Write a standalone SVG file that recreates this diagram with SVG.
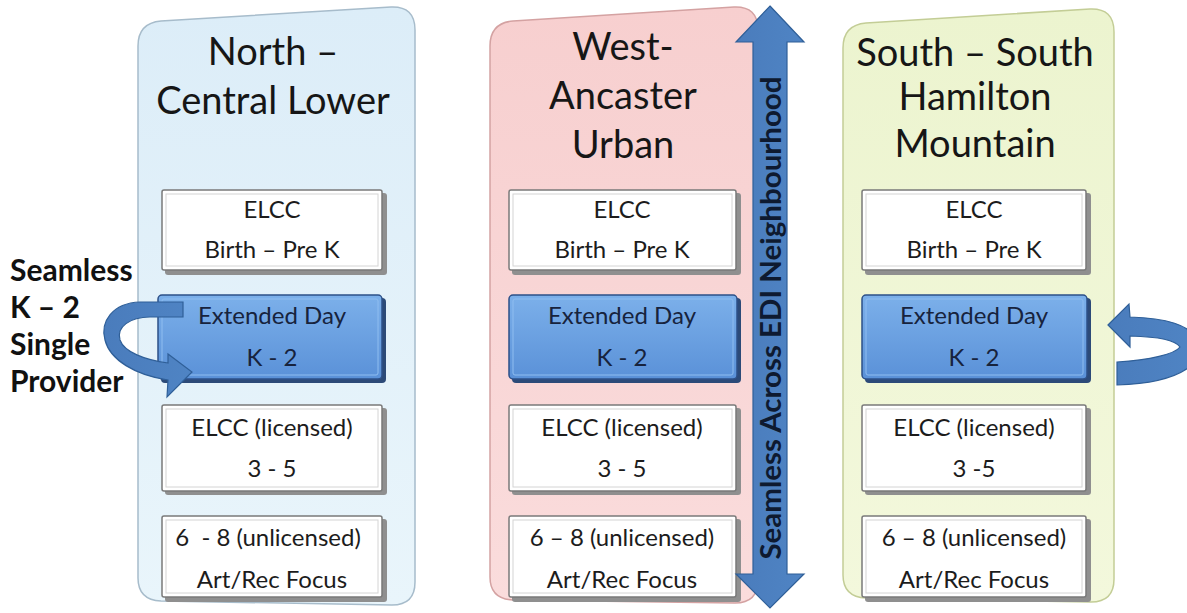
<svg xmlns="http://www.w3.org/2000/svg" width="1187" height="613" viewBox="0 0 1187 613">
<defs>
<linearGradient id="gBlueP" x1="0" y1="0" x2="0" y2="1"><stop offset="0" stop-color="#dcedf8"/><stop offset="1" stop-color="#e9f5fb"/></linearGradient>
<linearGradient id="gPink" x1="0" y1="0" x2="0" y2="1"><stop offset="0" stop-color="#f7cfcf"/><stop offset="1" stop-color="#fadcdc"/></linearGradient>
<linearGradient id="gGreen" x1="0" y1="0" x2="0" y2="1"><stop offset="0" stop-color="#ecf4cf"/><stop offset="1" stop-color="#f3f8dc"/></linearGradient>
<linearGradient id="gBox" x1="0" y1="0" x2="0" y2="1"><stop offset="0" stop-color="#7cb0ea"/><stop offset="1" stop-color="#5a91d8"/></linearGradient>
<linearGradient id="gArrow" x1="0" y1="0" x2="1" y2="0"><stop offset="0" stop-color="#4a7cbc"/><stop offset="1" stop-color="#4f84c4"/></linearGradient>
<style>
.panel{stroke-width:1.5}
.title{font-family:Lato,"Liberation Sans",sans-serif;font-size:38px;fill:#161616;text-anchor:middle}
.t{font-family:Lato,"Liberation Sans",sans-serif;font-size:24px;fill:#1c1c1c;text-anchor:middle}
.tb{font-family:Lato,"Liberation Sans",sans-serif;font-size:24px;fill:#17233d;text-anchor:middle}
.side{font-family:Lato,"Liberation Sans",sans-serif;font-size:30px;font-weight:bold;fill:#111}
.vert{font-family:Lato,"Liberation Sans",sans-serif;font-size:28px;font-weight:bold;fill:#0e1a30;text-anchor:middle}
.shadow{fill:#8f8f8f}
.wbox{fill:#ffffff;stroke:#7a7a7a;stroke-width:1.5}
.winner{fill:none;stroke:#d4d4d4;stroke-width:1}
.bshadow{fill:#2c4a78}
.bbox{fill:url(#gBox);stroke:#2d5088;stroke-width:1.5}
.binner{fill:none;stroke:#8fbdf0;stroke-width:1}
.arrow{fill:url(#gArrow);stroke:#2f5f98;stroke-width:1.2}
</style>
</defs>
<rect width="1187" height="613" fill="#ffffff"/>

<g id="panel-north">
<path class="panel" fill="url(#gBlueP)" stroke="#a7bccb" d="M138,46 Q138,23 161,21 L391,7 Q415,6 415,30 L415,582 Q415,605 392,605 L161,601 Q138,600 138,578 Z"/>
<text class="title" x="273" y="65">North –</text>
<text class="title" x="273" y="114">Central Lower</text>
</g>
<g id="panel-west">
<path class="panel" fill="url(#gPink)" stroke="#d4a2a2" d="M490,46 Q490,23 513,21 L734,7 Q758,6 758,30 L758,580 Q758,603 735,603 L513,600 Q490,599 490,577 Z"/>
<text class="title" x="623" y="60">West-</text>
<text class="title" x="623" y="109">Ancaster</text>
<text class="title" x="623" y="158">Urban</text>
</g>
<g id="panel-south">
<path class="panel" fill="url(#gGreen)" stroke="#c3cd96" d="M843,48 Q843,25 866,23 L1090,9 Q1114,8 1114,32 L1114,579 Q1114,602 1091,602 L866,598 Q843,597 843,575 Z"/>
<text class="title" x="975" y="66">South – South</text>
<text class="title" x="975" y="110">Hamilton</text>
<text class="title" x="975" y="157">Mountain</text>
</g>

<g id="n-elcc">
<rect class="shadow" x="165" y="193" width="222" height="82" rx="3"/>
<rect class="wbox" x="162" y="190" width="220" height="80" rx="2"/>
<rect class="winner" x="166" y="194" width="212" height="72"/>
<text class="t" x="272" y="218">ELCC</text>
<text class="t" x="272" y="258">Birth – Pre K</text>
</g>
<g id="n-ext">
<rect class="bshadow" x="161" y="298" width="225" height="85" rx="4"/>
<rect class="bbox" x="158" y="295" width="224" height="84" rx="4"/>
<rect class="binner" x="162" y="299" width="216" height="76" rx="2"/>
<text class="tb" x="272" y="324">Extended Day</text>
<text class="tb" x="272" y="366">K - 2</text>
</g>
<g id="n-lic">
<rect class="shadow" x="165" y="408" width="222" height="87" rx="3"/>
<rect class="wbox" x="162" y="405" width="220" height="86" rx="2"/>
<rect class="winner" x="166" y="409" width="212" height="78"/>
<text class="t" x="272" y="436">ELCC (licensed)</text>
<text class="t" x="272" y="477">3 - 5</text>
</g>
<g id="n-unl">
<rect class="shadow" x="165" y="519" width="222" height="83" rx="3"/>
<rect class="wbox" x="162" y="516" width="220" height="81" rx="2"/>
<rect class="winner" x="166" y="520" width="212" height="73"/>
<text class="t" x="268" y="546" xml:space="preserve">6  - 8 (unlicensed)</text>
<text class="t" x="272" y="588">Art/Rec Focus</text>
</g>

<g id="w-elcc">
<rect class="shadow" x="512" y="193" width="229" height="82" rx="3"/>
<rect class="wbox" x="509" y="190" width="227" height="80" rx="2"/>
<rect class="winner" x="513" y="194" width="219" height="72"/>
<text class="t" x="622" y="218">ELCC</text>
<text class="t" x="622" y="258">Birth – Pre K</text>
</g>
<g id="w-ext">
<rect class="bshadow" x="512" y="298" width="229" height="85" rx="4"/>
<rect class="bbox" x="509" y="295" width="228" height="84" rx="4"/>
<rect class="binner" x="513" y="299" width="220" height="76" rx="2"/>
<text class="tb" x="622" y="324">Extended Day</text>
<text class="tb" x="622" y="366">K - 2</text>
</g>
<g id="w-lic">
<rect class="shadow" x="512" y="408" width="229" height="87" rx="3"/>
<rect class="wbox" x="509" y="405" width="227" height="86" rx="2"/>
<rect class="winner" x="513" y="409" width="219" height="78"/>
<text class="t" x="622" y="436">ELCC (licensed)</text>
<text class="t" x="622" y="477">3 - 5</text>
</g>
<g id="w-unl">
<rect class="shadow" x="512" y="519" width="229" height="83" rx="3"/>
<rect class="wbox" x="509" y="516" width="227" height="81" rx="2"/>
<rect class="winner" x="513" y="520" width="219" height="73"/>
<text class="t" x="622" y="546">6 – 8 (unlicensed)</text>
<text class="t" x="622" y="588">Art/Rec Focus</text>
</g>

<g id="s-elcc">
<rect class="shadow" x="865" y="193" width="226" height="82" rx="3"/>
<rect class="wbox" x="862" y="190" width="224" height="80" rx="2"/>
<rect class="winner" x="866" y="194" width="216" height="72"/>
<text class="t" x="974" y="218">ELCC</text>
<text class="t" x="974" y="258">Birth – Pre K</text>
</g>
<g id="s-ext">
<rect class="bshadow" x="865" y="298" width="226" height="85" rx="4"/>
<rect class="bbox" x="862" y="295" width="225" height="84" rx="4"/>
<rect class="binner" x="866" y="299" width="217" height="76" rx="2"/>
<text class="tb" x="974" y="324">Extended Day</text>
<text class="tb" x="974" y="366">K - 2</text>
</g>
<g id="s-lic">
<rect class="shadow" x="865" y="408" width="226" height="87" rx="3"/>
<rect class="wbox" x="862" y="405" width="224" height="86" rx="2"/>
<rect class="winner" x="866" y="409" width="216" height="78"/>
<text class="t" x="974" y="436">ELCC (licensed)</text>
<text class="t" x="974" y="477">3 -5</text>
</g>
<g id="s-unl">
<rect class="shadow" x="865" y="519" width="226" height="83" rx="3"/>
<rect class="wbox" x="862" y="516" width="224" height="81" rx="2"/>
<rect class="winner" x="866" y="520" width="216" height="73"/>
<text class="t" x="974" y="546">6 – 8 (unlicensed)</text>
<text class="t" x="974" y="588">Art/Rec Focus</text>
</g>

<g id="label-seamless">
<text class="side" x="10" y="281">Seamless</text>
<text class="side" x="10" y="318">K – 2</text>
<text class="side" x="10" y="355">Single</text>
<text class="side" x="10" y="392">Provider</text>
</g>

<g id="connectors">
<path class="arrow" d="M183,302 L140,302 C112,303 100,322 105,340 C110,360 135,375 168,380 L167,397 L192,372 L168,354 L168,363 C145,360 124,352 120,340 C116,327 130,317 150,317 L183,317 Z"/>
<path class="arrow" d="M1108,325 L1129,304 L1130,317 C1165,318 1192,325 1195,340 L1195,362 C1180,378 1150,384 1117,385 L1117,362 C1150,360 1175,354 1180,347 C1175,340 1160,337 1130,336 L1130,347 Z"/>
<path class="arrow" d="M770,6 L804,42 L787,42 L787,574 L804,574 L770,608 L736,574 L753,574 L753,42 L736,42 Z"/>
<text class="vert" transform="translate(781,318) rotate(-90)" textLength="483" lengthAdjust="spacingAndGlyphs">Seamless Across EDI Neighbourhood</text>
</g>
</svg>
